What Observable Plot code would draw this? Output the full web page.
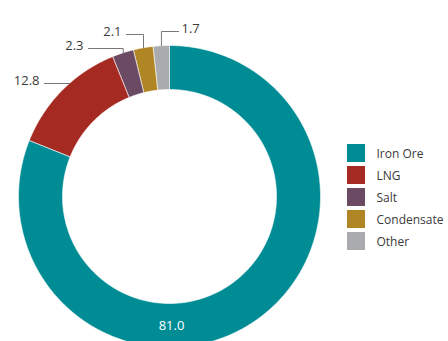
<!DOCTYPE html>
<html>
<head>
<meta charset="utf-8">
<script src="https://cdn.jsdelivr.net/npm/d3@7"></script>
<script src="https://cdn.jsdelivr.net/npm/@observablehq/plot@0.6"></script>
<style>
  html, body { margin: 0; padding: 0; background: #fff; }
  #chart svg { display: block; }
</style>
</head>
<body>
<div id="chart"></div>
<script>
// ---- data ----
const categories = ["Iron Ore", "LNG", "Salt", "Condensate", "Other"];
const values = [81.0, 12.8, 2.3, 2.1, 1.7];
const valueLabels = ["81.0", "12.8", "2.3", "2.1", "1.7"];
const colors = ["#008c95", "#a52a21", "#6b4a63", "#b08523", "#aaabaf"];

// ---- layout ----
const W = 448, H = 341;
const cx = 169, cy = 196, R = 151, r = 107;
const data = categories.map((name, i) => ({name, value: values[i], label: valueLabels[i]}));
const arcs = d3.pie().sort(null).value(d => d.value)(data);
const pt = (a, rad) => ({x: cx + rad * Math.sin(a), y: cy - rad * Math.cos(a)});

// ring polygons computed from the pie angles
const ring = [];
arcs.forEach(a => {
  const n = Math.max(4, Math.ceil((a.endAngle - a.startAngle) / 0.01));
  for (let k = 0; k <= n; k++) {
    const t = a.startAngle + (a.endAngle - a.startAngle) * k / n;
    ring.push({name: a.data.name, ...pt(t, R)});
  }
  for (let k = n; k >= 0; k--) {
    const t = a.startAngle + (a.endAngle - a.startAngle) * k / n;
    ring.push({name: a.data.name, ...pt(t, r)});
  }
});

// leader-line layout for the outside labels (level y, line start x, side)
const layout = {
  "LNG": {level: 83, start: 44, side: "left", straight: true},
  "Salt": {level: 48, start: 88, side: "left"},
  "Condensate": {level: 34, start: 126, side: "left"},
  "Other": {level: 31, start: 178, side: "right"}
};
const leaders = [];
const outLabels = [];
arcs.forEach(a => {
  const L = layout[a.data.name];
  if (!L) return;
  const mid = (a.startAngle + a.endAngle) / 2;
  const p = pt(mid, R);
  const pts = [{x: L.start, y: L.level}];
  if (L.straight) {
    pts.push({x: cx - Math.sqrt(R * R - (cy - L.level) ** 2), y: L.level});
  } else {
    pts.push({x: p.x, y: L.level});
    pts.push({x: p.x, y: p.y});
  }
  pts.forEach(q => leaders.push({name: a.data.name, ...q}));
  outLabels.push({
    label: a.data.label,
    x: L.side === "left" ? L.start - 5 : L.start + 3,
    y: L.level,
    side: L.side
  });
});
const inLabels = arcs.filter(a => !layout[a.data.name]).map(a => ({
  label: a.data.label, ...pt(Math.PI, (R + r) / 2)
}));

const legend = categories.map((name, i) => ({name, y1: 144 + 22 * i, y2: 162 + 22 * i}));

const labelStyle = {x: "x", y: "y", text: "label", fontSize: 13, fill: "#3a3a3a", lineAnchor: "bottom", dy: 1};

const chart = Plot.plot({
  width: W,
  height: H,
  margin: 0,
  x: {domain: [0, W], axis: null},
  y: {domain: [H, 0], axis: null},
  color: {domain: categories, range: colors},
  style: {fontFamily: "'Open Sans', sans-serif", background: "#fff", overflow: "hidden"},
  marks: [
    Plot.line(ring, {x: "x", y: "y", z: "name", fill: "name", stroke: "#fff", strokeWidth: 0.6, curve: "linear-closed"}),
    Plot.line(leaders, {x: "x", y: "y", z: "name", stroke: "#777", strokeWidth: 1}),
    Plot.text(outLabels.filter(d => d.side === "left"), {...labelStyle, textAnchor: "end"}),
    Plot.text(outLabels.filter(d => d.side === "right"), {...labelStyle, textAnchor: "start"}),
    Plot.text(inLabels, {x: "x", y: "y", text: "label", fontSize: 13, fill: "#fff", dx: 2}),
    Plot.rect(legend, {x1: () => 347, x2: () => 365, y1: "y1", y2: "y2", fill: "name"}),
    Plot.text(legend, {x: () => 376, y: d => (d.y1 + d.y2) / 2, text: "name", textAnchor: "start", fontSize: 12, fill: "#3a3a3a", dy: 1})
  ]
});
document.getElementById("chart").appendChild(chart);
</script>
</body>
</html>
